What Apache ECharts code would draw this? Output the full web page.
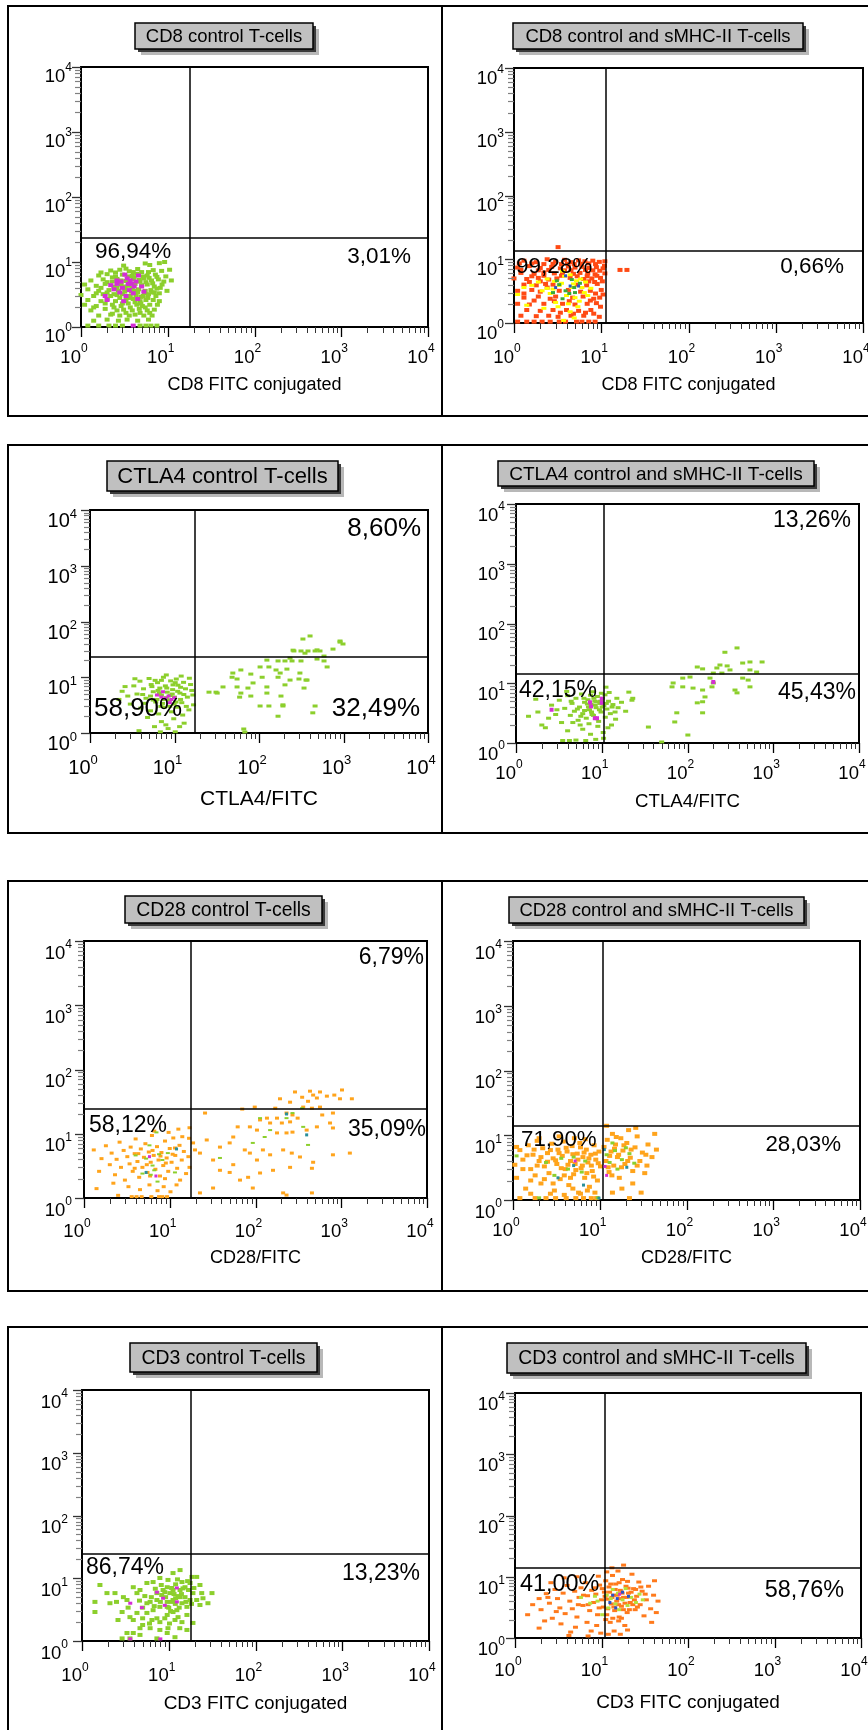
<!DOCTYPE html>
<html>
<head>
<meta charset="utf-8">
<script src="https://cdn.jsdelivr.net/npm/echarts@6/dist/echarts.min.js"></script>
<style>
  html, body { margin: 0; padding: 0; background: #ffffff; }
  #chart { width: 868px; height: 1730px; }
</style>
</head>
<body>
<div id="chart"></div>
<script>
// ---------- texts ----------
const panelTitles = [
  'CD8 control T-cells', 'CD8 control and sMHC-II T-cells',
  'CTLA4 control T-cells', 'CTLA4 control and sMHC-II T-cells',
  'CD28 control T-cells', 'CD28 control and sMHC-II T-cells',
  'CD3 control T-cells', 'CD3 control and sMHC-II T-cells'
];
const axisNames = [
  'CD8 FITC conjugated', 'CD8 FITC conjugated',
  'CTLA4/FITC', 'CTLA4/FITC',
  'CD28/FITC', 'CD28/FITC',
  'CD3 FITC conjugated', 'CD3 FITC conjugated'
];
// quadrant percentages: lower-left, lower-right, upper-right
const quadrantPercents = [
  { ll: '96,94%', lr: '3,01%' },
  { ll: '99,28%', lr: '0,66%' },
  { ll: '58,90%', lr: '32,49%', ur: '8,60%' },
  { ll: '42,15%', lr: '45,43%', ur: '13,26%' },
  { ll: '58,12%', lr: '35,09%', ur: '6,79%' },
  { ll: '71,90%', lr: '28,03%' },
  { ll: '86,74%', lr: '13,23%' },
  { ll: '41,00%', lr: '58,76%' }
];

// ---------- axes ----------
const decadeTicks = [1, 10, 100, 1000, 10000];
const minorTicks = [2, 3, 4, 5, 6, 7, 8, 9,
  20, 30, 40, 50, 60, 70, 80, 90,
  200, 300, 400, 500, 600, 700, 800, 900,
  2000, 3000, 4000, 5000, 6000, 7000, 8000, 9000];

// quadrant gates (FITC, side scatter) per panel
const gateX = [18, 11.3, 17.5, 10.6, 17.7, 10.9, 18, 11];
const gateY = [24, 13.5, 23, 14.3, 24.3, 13.9, 24.3, 13.9];

// ---------- events: [FITC, y] ----------
const cd8CtrlGreen = [
  [5.5,9.5],[6.2,9.0],[8.0,9.6],[9.2,10],[3.1,8.8],
  [2.2,7.4],[2.8,7.6],[3.6,7.2],[4.5,7.8],[5.0,7.0],[6.8,7.5],[8.5,7.3],[10.5,7.6],
  [1.6,6.2],[2.0,6.5],[2.5,6.0],[3.0,6.4],[3.9,6.1],[4.4,6.6],[5.8,6.2],[7.2,6.4],[9.5,6.0],
  [1.3,5.2],[1.8,5.4],[2.3,5.0],[2.6,5.5],[3.3,5.1],[4.0,5.4],[4.8,5.0],[5.3,5.6],[6.5,5.2],[7.8,5.4],[11,5.2],
  [1.1,4.5],[1.5,4.3],[1.9,4.6],[2.4,4.2],[2.9,4.5],[3.5,4.3],[4.2,4.6],[5.0,4.4],[5.8,4.5],[7.0,4.2],[8.6,4.5],
  [1.2,3.8],[1.6,3.6],[2.1,3.7],[2.7,3.6],[3.2,3.9],[3.8,3.5],[4.6,3.8],[5.5,3.6],[6.4,3.7],[7.5,3.9],[9.8,3.6],
  [1.0,3.1],[1.4,3.0],[1.8,3.2],[2.2,3.0],[2.6,3.1],[3.0,3.2],[3.7,3.0],[4.3,3.1],[5.2,3.0],[6.0,3.2],[7.3,3.0],
  [1.2,2.6],[1.7,2.5],[2.0,2.7],[2.5,2.5],[3.3,2.6],[4.0,2.7],[4.8,2.5],[5.6,2.6],[6.8,2.6],[8.0,2.5],
  [1.1,2.2],[1.5,2.1],[2.3,2.2],[2.9,2.1],[3.5,2.3],[4.4,2.2],[5.1,2.1],[6.2,2.2],[7.6,2.2],
  [1.3,1.8],[1.9,1.9],[2.6,1.8],[3.1,1.85],[3.9,1.8],[4.7,1.9],[5.8,1.8],[7.0,1.85],
  [1.6,1.5],[2.2,1.55],[2.8,1.5],[3.6,1.5],[4.2,1.55],[5.3,1.5],[6.6,1.5],
  [1.4,1.25],[2.0,1.3],[2.7,1.25],[3.4,1.3],[4.5,1.25],[6.0,1.3],
  [1.2,1.05],[1.6,1.05],[2.1,1.05],[2.5,1.05],[3.0,1.05],[4.8,1.05],[5.6,1.05],[6.4,1.05],[7.5,1.05],
  [1.7,4.0],[2.0,4.9],[2.3,5.8],[2.6,4.0],[2.9,5.2],[3.2,4.2],[3.5,6.0],[3.9,4.0],[4.1,5.8],[4.7,5.3],[5.2,6.0],
  [5.6,4.9],[6.1,5.7],[6.7,4.7],[1.5,3.3],[2.0,3.4],[2.4,3.2],[2.8,2.8],[3.2,3.5],[3.6,2.8],[4.1,3.6],[4.5,3.4],
  [4.9,2.9],[5.4,3.3],[5.9,2.8],[6.6,3.4],[1.9,2.3],[2.4,2.0],[3.0,2.3],[3.7,2.0],[4.2,2.4],[4.9,2.3],[5.5,2.0],
  [1.4,2.0],[1.7,6.9],[2.5,6.9],[3.3,7.9],[4.0,7.0],[6.0,7.0],[7.5,5.9],[8.2,4.0],[9.0,5.0],[8.0,3.3],[7.0,3.4],
  [2.3,1.6],[3.3,1.65],[4.8,1.65],[6.2,1.65]
];
const cd8CtrlMagenta = [
  [2.2,4.4],[2.6,5.2],[3.0,4.0],[3.4,5.6],[3.8,4.6],[4.3,5.0],[4.6,6.2],[2.8,3.4],[3.3,3.0],[3.6,3.7],
  [4.0,3.3],[2.4,3.8],[1.9,3.0],[5.0,4.2],[4.5,2.7],[3.1,2.5],[5.3,3.5],[2.0,2.6],[3.2,6.4],[4.0,1.05],
  [2.9,5.0],[3.7,5.2],[4.1,4.2],[3.5,4.6],[2.6,4.6]
];

const cd8MhcRed = [
  [3.2,15.5],
  [1.3,9.5],[1.8,9.0],[2.4,10],[3.0,9.2],[3.8,9.8],[4.5,9.0],[5.5,9.6],[6.5,9.3],[8.0,9.5],[9.5,9.1],
  [1.1,7.4],[1.5,7.8],[2.0,7.3],[2.7,7.6],[3.4,7.2],[4.2,7.7],[5.0,7.4],[6.0,7.6],[7.2,7.3],[8.8,7.5],[10.5,7.2],[16.4,6.8],[19.7,6.8],
  [1.2,6.1],[1.7,5.9],[2.2,6.2],[2.9,6.0],[3.6,6.2],[4.8,5.9],[5.7,6.1],[7.0,6.0],[8.5,5.8],[11,6.0],
  [1.0,5.0],[1.4,4.9],[1.9,5.1],[2.5,4.8],[3.1,5.0],[4.4,5.1],[6.3,4.9],[7.8,5.0],[9.8,5.1],
  [1.3,4.0],[1.8,3.9],[2.3,4.1],[2.8,4.0],[5.3,4.0],[6.8,3.9],[9.0,4.1],
  [1.1,3.2],[1.6,3.3],[2.0,3.1],[3.3,3.2],[4.2,3.3],[5.8,3.1],[7.5,3.2],[10,3.3],
  [1.3,2.5],[1.9,2.6],[2.6,2.4],[3.0,2.6],[4.7,2.5],[6.2,2.6],[8.2,2.4],[9.6,2.5],
  [1.1,2.0],[1.5,1.95],[2.2,2.0],[3.6,2.0],[5.0,1.95],[6.9,2.0],[8.8,2.05],
  [1.4,1.6],[2.0,1.55],[2.8,1.6],[4.0,1.6],[5.5,1.55],[7.6,1.6],
  [1.2,1.3],[1.8,1.28],[2.5,1.3],[3.2,1.25],[4.5,1.3],[6.3,1.3],[9.5,1.25],
  [1.1,1.05],[1.4,1.05],[1.7,1.05],[2.1,1.05],[2.6,1.05],[3.3,1.05],[3.9,1.05],[5.2,1.05],[6.0,1.05],[7.2,1.05],[8.5,1.05],
  [1.15,8.6],[1.6,8.6],[2.2,8.4],[2.8,8.5],[3.5,8.4],[4.1,8.5],[4.9,8.4],[5.9,8.5],[7.2,8.6],[8.6,8.4],
  [1.2,6.8],[1.9,6.7],[2.5,6.8],[3.8,6.7],[4.5,6.7],[6.6,6.8],[8.0,6.7],[9.6,6.6],[1.6,5.4],[2.2,5.5],[3.5,5.5],
  [5.3,5.4],[6.9,5.4],[8.9,5.5],[1.5,4.4],[2.0,4.5],[7.2,4.5],[8.4,4.4],[10.3,4.5],[1.3,2.9],[2.4,3.6],[8.6,2.9],
  [10.5,2.8],[1.7,2.25],[2.9,2.2],[4.3,2.2],[7.5,2.25],[9.8,1.8],[3.4,1.45],[4.8,1.4],[6.6,1.45],[8.2,1.4],
  [11,9.3],[10.9,7.9]
];
const cd8MhcYellow = [
  [1.1,2.8],[1.3,3.6],[2.4,3.5],[2.9,4.5],[3.5,4.2],[3.8,5.4],[4.0,2.7],[4.6,3.6],[5.2,4.6],[5.6,2.2],[6.0,3.6],
  [3.2,1.8],[4.4,1.5],[2.6,2.9],[7.0,2.7],[1.9,4.4],[3.6,6.5],[4.9,1.2],[6.6,4.4],[2.2,1.7],[3.7,1.1],[5.4,1.8],
  [1.6,3.9],[2.1,3.2],[2.8,3.4],[3.3,3.9],[4.8,4.1],[5.8,4.9],[6.4,3.0],[3.0,2.1],[4.2,2.0],[5.0,2.5],[2.4,4.9],
  [4.4,5.7],[7.6,3.5],[1.4,1.9]
];
const cd8MhcGreen = [[3.3,4.0],[3.9,3.2],[4.6,4.8],[4.3,2.9],[5.0,3.0],[3.6,2.4],[2.8,3.0],[4.9,3.6],[5.7,4.2],[3.1,4.6]];
const cd8MhcBlue = [[5.5,3.8],[3.9,5.5],[4.4,3.8],[3.0,3.6]];

const ctla4CtrlGreen = [
  [2.4,5.6],[2.8,4.6],[3.3,7.0],[3.6,5.0],[3.9,8.5],[4.3,6.2],[4.6,4.2],[5.0,9.5],[5.3,7.4],[5.6,5.5],[6.0,3.6],
  [6.3,8.0],[6.7,6.4],[7.0,4.8],[7.4,10],[7.8,7.0],[8.2,5.4],[8.6,3.9],[9.0,8.6],[9.5,6.0],[10,4.4],[10.5,9.3],
  [11,7.2],[11.6,5.2],[12.2,3.5],[12.8,8.1],[13.5,6.2],[14.2,4.4],[15,9.6],[16,5.8],[16.8,3.2],[3.0,3.3],[4.0,2.8],
  [5.2,2.5],[6.5,2.2],[7.6,2.9],[9.2,2.4],[10.8,2.9],[12.5,2.1],[14.8,2.6],[4.8,1.9],[7.0,1.6],[9.8,1.8],[13,1.5],
  [5.8,1.3],[8.4,1.2],[11.5,1.3],[3.8,1.1],[6.8,1.05],[10.2,1.05],[2.2,4.0],[5.4,6.8],[6.6,5.2],[8.0,4.3],[9.4,5.0],
  [7.2,3.4],[8.8,3.0],[10.4,3.6],[6.2,4.0],[11.8,4.0],[4.5,3.4],[5.9,8.8],[8.0,11],[12,10.5],[15.5,7.4],[16.5,4.8],
  [3.4,9.4],[2.6,6.8],[13.8,3.0],[7.9,1.4],
  [5.2,4.6],[6.4,5.8],[7.6,4.0],[8.9,4.7],[9.9,3.3],[10.9,5.6],[11.8,6.6],[6.9,3.0],[5.6,3.9],[8.1,6.4],[9.6,7.3],
  [12.9,4.9],[4.2,4.9],[7.0,8.8],[10.2,8.0],
  [402,55],[331,48.5],[910,44.7],[986,39.5],[259,29.6],[314,29.6],[380,29.6],[461,29.6],[527,29.6],[751,32],
  [588,24],[486,21.2],[168,19.6],[203,19.6],[246,19.6],[314,19.6],[588,19.6],[103,15.3],[131,15.3],[159,13.5],
  [214,14],[61,13.5],[80,11.4],[48,10],[109,10],[168,10],[55,9.3],[233,8.9],[297,9.3],[360,8.9],[37.5,6.7],
  [55,6.7],[124,6.7],[74,6.4],[203,7.3],[341,6.4],[25.6,5.4],[31,5.4],[61,5.2],[80,4.6],[124,5.2],[182,4.6],
  [103,3.05],[131,3.05],[192,3.05],[461,3.05],[168,2.0],[66,1.18],
  [124,20.3],[233,22],[350,27],[486,31],[640,15.3],[370,8.9],[178,11.9],[85,7.9],[49,11.9],[32,5.2],[59,4.4],
  [192,3.2],[433,2.3],[68,1.04],[305,11.9],[910,42.7],[253,30.6]
];
const ctla4CtrlMagenta = [[6.2,4.8],[7.0,4.4],[7.8,4.2],[8.5,4.6],[9.2,4.0],[7.3,5.5],[8.8,3.5],[10,4.3]];

const ctla4MhcGreen = [
  [1.4,2.8],[1.8,3.3],[2.0,2.0],[2.4,2.6],[2.6,4.3],[2.9,3.0],[3.2,5.2],[3.4,2.2],[3.7,3.8],[4.0,6.2],[4.3,2.9],
  [4.5,4.6],[4.8,3.4],[5.0,5.6],[5.3,2.4],[5.5,4.0],[5.8,6.6],[6.0,3.1],[6.3,4.8],[6.6,2.6],[6.9,5.3],[7.2,3.6],
  [7.5,4.4],[7.8,7.2],[8.0,2.9],[8.3,5.0],[8.6,3.9],[8.9,6.0],[9.2,2.3],[9.5,4.6],[9.8,3.3],[10.2,5.6],[10.6,4.2],
  [11,2.7],[11.5,3.7],[12,5.0],[12.6,3.1],[13.5,4.4],[14.5,2.5],[15.5,3.9],[17,4.8],[19,3.4],[23,5.6],[6.0,1.7],
  [7.4,1.4],[9.0,1.9],[10.4,1.5],[3.5,1.1],[4.2,1.1],[5.0,1.12],[6.5,1.1],[8.5,1.15],[10.5,1.2],[11.8,1.8],[5.6,2.0],
  [4.0,1.6],[2.2,1.8],[12.2,7.0],[6.3,3.5],[7.0,4.0],[7.7,3.0],[8.4,4.3],[9.7,5.0],[7.1,2.1],[5.7,2.8],[3.0,3.6],
  [4.6,2.2],[10.9,6.4],[11.2,8.6],[3.9,7.3],[1.7,5.4],[13,2.0],
  [6.2,5.6],[6.8,4.5],[7.6,3.3],[8.1,5.6],[8.7,4.9],[9.4,3.6],[10.1,4.0],[11.3,4.6],[5.2,3.7],[4.4,5.0],[7.4,6.3],[9.9,6.8],
  [378,39],[273,33],[535,22.7],[741,22.7],[440,21.8],[130,18.7],[150,17.4],[220,18],[239,20.2],[290,19.5],
  [200,14.8],[535,16.7],[640,15.4],[440,12.2],[68,10.1],[88,8.7],[116,8.3],[150,7.7],[193,8.7],[200,10.1],
  [358,7.7],[535,8.7],[510,11.3],[378,6.9],[160,5.9],[130,4.7],[150,4.9],[75,3.2],[150,3.2],[71,2.25],[35,1.85],
  [101,1.36],[50,1.04],[66,8.7],[183,12.2],[252,14.8],[313,16.7],[107,12.7],[88,12.2],[20.7,7.1],[22.5,5.2],
  [15,5.6],[13.2,4.0],[14.3,3.3]
];
const ctla4MhcMagenta = [[7.3,4.8],[7.5,4.1],[10,4.7],[10,5.5],[8.3,2.6],[8.8,2.6],[2.6,3.6],[200,10.5]];

const cd28CtrlOrange = [
  [1.3,5.6],[1.5,2.6],[1.6,4.1],[1.8,6.5],[2.0,3.3],[2.1,5.0],[2.3,2.3],[2.4,4.0],[2.6,7.4],[2.7,3.0],[2.9,5.5],
  [3.0,1.9],[3.2,4.4],[3.4,3.4],[3.5,6.2],[3.7,2.6],[3.9,4.9],[4.0,8.3],[4.2,3.7],[4.4,2.1],[4.6,5.8],[4.8,3.0],
  [5.0,4.3],[5.2,7.0],[5.5,2.5],[5.7,5.2],[6.0,3.6],[6.2,9.4],[6.5,4.6],[6.8,2.8],[7.1,6.3],[7.4,3.9],[7.7,2.2],
  [8.0,5.1],[8.4,3.2],[8.8,7.7],[9.2,4.2],[9.6,2.6],[10,5.9],[10.5,3.6],[11,8.6],[11.6,4.6],[12.2,2.9],[13,6.6],
  [13.8,3.9],[14.6,5.3],[15.5,2.4],[16.5,4.4],[3.3,1.5],[4.5,1.35],[5.8,1.6],[7.2,1.3],[8.5,1.5],[10.2,1.25],
  [12,1.6],[2.5,1.1],[3.6,1.05],[4.1,1.05],[4.7,1.05],[7.5,1.05],[8.2,1.05],[9.3,1.05],[6.1,1.05],[2.2,1.7],
  [1.4,1.4],[6.6,11],[9.7,10.5],[12.6,11.8],[14,9.0],[17,12.4],[5.4,3.3],[6.3,5.5],[7.8,4.5],[9.0,3.5],[10.8,4.8],
  [4.3,4.9],[11.5,6.0],[3.9,2.9],[8.8,2.0],[5.9,2.2],[16.8,8.5],[17,3.0],[13.2,1.9],
  [289,44.7],[432,46],[565,44.7],[1020,48],[830,40],[966,35],[1330,35],[470,40],[350,37],[193,35],[253,31],
  [410,32],[680,38.5],[520,36],[565,26],[455,25],[360,26],[170,25],[98,26],[70,24.2],[800,21],[600,19.6],
  [270,19.6],[230,21],[178,17.5],[136,17.5],[113,16.4],[148,14.7],[203,14.7],[253,15.3],[310,17.5],[740,14.7],
  [800,12.3],[520,12.8],[395,11.4],[270,10.6],[230,10.3],[178,10.3],[104,11.4],[86,12.8],[62,12.8],[55,8.9],
  [50,7.2],[38.5,6.2],[27,8.0],[25.8,21],[18.7,7.2],[19.7,5.6],[22.5,5.0],[32,3.9],[38.5,2.7],[55,3.3],[75,5.6],
  [86,5.0],[104,3.9],[122,5.6],[148,4.7],[210,5.6],[265,5.0],[330,4.35],[470,3.6],[455,2.9],[253,3.0],[160,2.7],
  [113,2.45],[82,2.1],[66,1.9],[50,2.5],[210,1.2],[230,1.11],[455,1.2],[1260,5.0],[800,4.7],[93,1.43],[32,1.43],
  [22.5,1.2]
];
const cd28CtrlGreen = [
  [4.0,4.6],[5.3,4.1],[6.3,3.2],[7.5,4.8],[6.6,2.7],[8.2,3.9],[5.8,6.6],[7.0,10.5],[4.8,2.4],[9.5,5.0],[6.0,2.3],
  [7.2,1.8],[11.5,2.5],
  [113,17.5],[148,11.4],[270,21],[360,12.8],[410,6.7],[230,17.5],[38.5,4.2],[128,8.9],[350,25],[93,7.2]
];
const cd28CtrlMagenta = [[5.8,4.4],[6.9,2.2]];
const cd28CtrlTeal = [[12,5.8],[5.3,2.5],[230,20.3],[395,9.6]];

const cd28MhcOrange = [
  [1.05,3.5],[1.1,2.2],[1.2,5.9],[1.3,4.2],[1.4,1.5],[1.5,7.0],[1.6,3.0],[1.7,5.0],[1.8,2.4],[1.9,8.2],[2.0,4.0],
  [2.1,1.8],[2.2,6.3],[2.3,3.3],[2.5,5.3],[2.6,2.6],[2.8,7.4],[2.9,4.4],[3.0,1.4],[3.2,3.6],[3.3,6.0],[3.5,2.1],
  [3.7,4.8],[3.8,8.0],[4.0,3.0],[4.2,5.6],[4.4,1.7],[4.6,4.0],[4.8,6.8],[5.0,2.5],[5.2,3.6],[5.5,5.2],[5.7,1.3],
  [5.9,7.6],[6.1,3.1],[6.4,4.6],[6.7,2.2],[7.0,6.0],[7.3,3.8],[7.6,1.6],[7.9,5.0],[8.2,2.8],[8.6,7.0],[9.0,4.2],
  [9.4,2.0],[9.8,5.6],[10.2,3.3],[1.2,1.07],[1.8,1.07],[2.4,1.07],[3.1,1.07],[4.1,1.07],[5.3,1.07],[6.5,1.07],
  [8.0,1.07],[9.2,1.07],[2.7,1.25],[3.9,1.2],[6.0,1.25],[8.8,1.3],[1.6,1.25],[4.9,1.5],[7.2,1.4],[2.0,9.0],
  [3.4,9.6],[5.1,9.0],[6.8,8.7],
  [1.1,6.6],[1.3,3.0],[1.45,4.9],[1.6,2.0],[1.75,6.0],[1.9,3.4],[2.1,4.6],[2.3,2.1],[2.5,3.9],[2.7,5.9],[2.9,1.8],
  [3.1,4.1],[3.4,5.3],[3.6,3.1],[3.9,2.4],[4.1,6.4],[4.3,3.5],[4.6,2.2],[4.9,5.1],[5.3,2.9],[5.6,4.2],[6.0,6.5],
  [6.3,3.4],[6.6,5.4],[7.1,2.6],[7.5,4.4],[8.0,3.4],[8.5,2.3],[8.9,5.2],[9.6,3.7],
  [11.2,6.6],[11.8,4.0],[12.2,8.5],[12.8,2.7],[13.5,5.6],[14,10.5],[14.5,3.4],[15.2,7.2],[16,4.6],[16.8,2.2],
  [17.5,9.0],[18.5,5.8],[19.5,3.6],[20.5,7.6],[21.5,12],[22.5,4.5],[24,2.8],[25.5,6.5],[27,9.6],[29,4.0],[31,5.4],
  [33,2.6],[36,7.2],[40,4.6],[43,10.5],[45,6.0],[18,1.5],[24,1.8],[30,1.3],[22,1.07],[35,3.4],[14,1.3],[26,13],[12,14],
  [13,4.8],[14.8,6.2],[16.5,5.0],[17.8,3.2],[19,7.0],[21,4.0],[13.8,2.4],[12.5,3.2],[15.5,9.4],[23,6.0],[27,3.4],[34,5.0]
];
const cd28MhcGreen = [
  [1.1,4.8],[2.4,3.8],[3.6,4.4],[4.3,3.0],[5.0,4.6],[6.2,2.7],[3.0,2.4],[6.8,4.0],[12,5.0],[13,3.8],[15,5.8],
  [18,4.2],[20,6.4],[14,7.6],[16,3.0],[22,5.2],[25,3.7],[9.5,1.08],[2.0,1.08]
];
const cd28MhcTeal = [[5.0,3.4],[6.5,1.7],[11.3,6.0],[20.5,3.2],[3.3,2.2],[9.8,1.07]];
const cd28MhcMagenta = [[5.2,4.0],[11.5,3.3],[12,2.4]];

const cd3CtrlGreen = [
  [1.61,7.8],[1.94,5.8],[1.41,4.2],[1.41,2.9],[2.4,5.8],[2.6,2.16],[3.3,4.5],[3.4,3.4],[3.9,7.2],[4.3,5.8],
  [4.66,6.5],[5.6,8.4],[6.6,8.7],[7.9,10.1],[9.8,9.4],[11.2,12.1],[13.5,13.5],[14.2,8.7],[15.4,7.2],[17.6,8.4],
  [18.5,10.5],[21,10.5],[22.9,7.8],[24,5.8],[24.8,4.8],[28.3,4.0],[31.5,5.8],[19,1.94],[16.2,1.5],[14.2,2.0],
  [11.8,2.16],[9.6,1.34],[7.9,1.5],[6.1,1.6],[4.66,1.6],[3.9,1.34],[3.3,1.34],[2.9,1.1],[7.3,1.1],[4.66,1.25],
  [5.6,2.8],[6.6,3.1],[7.9,3.5],[9.6,4.2],[11.2,4.5],[13.5,5.0],[10.3,5.8],[8.6,6.5],[7.3,5.8],[6.1,4.2],
  [5.0,3.4],[4.3,2.8],[3.9,2.16],[5.0,2.3],[7.3,2.3],[9.6,2.6],[12.4,3.1],[16.2,3.5],[17.6,4.5],[21,4.5],
  [22.9,3.75],[11.2,6.5],[13.5,6.5],[14.2,4.0],[7.9,2.0],[5.0,1.8],[3.57,2.4],[2.9,2.9],[2.1,4.0],[2.5,4.2],
  [3.0,5.0],[9.8,1.6],[11.8,1.15],[3.57,1.1],[15.4,5.0],[19,5.8],[12.8,2.4],[16.2,2.6],[7.3,4.5],[9.6,3.5],
  [11.2,2.9],[5.6,4.0],[6.4,2.16],[9.2,5.0],[10.6,4.2],[12,4.8],[10,3.4],[8.3,5.4],[11.5,5.6],[14,5.6],
  [9.6,7.2],[12,8.0],[16.9,6.5],
  [6.3,5.0],[7.0,6.8],[8.2,7.8],[9.0,6.0],[10.8,7.0],[12.8,5.2],[14.6,6.9],[11.9,3.9],[13.2,3.4],[10.5,3.0],
  [8.0,4.2],[6.8,3.6],[5.3,5.2],[4.6,4.4],[15.8,4.2],[18.3,3.9],[19.5,7.0],[16.5,9.0],[12.6,9.6],[9.0,2.3],
  [6.0,1.9],[10.2,1.9],[13.4,1.6]
];
const cd3CtrlMagenta = [[3.6,4.0],[4.9,3.4],[8.6,4.8],[9.0,3.7],[12.4,4.2],[12.4,7.0],[7.3,6.0],[3.6,1.08],[8.0,1.08]];

const cd3MhcOrange = [
  [1.4,2.4],[1.6,3.5],[1.9,4.4],[2.0,2.9],[2.3,5.3],[2.5,3.7],[2.7,2.1],[2.9,6.2],[3.1,4.4],[3.3,3.1],[3.6,5.4],
  [3.8,2.5],[4.0,7.2],[4.3,4.0],[4.6,3.0],[4.9,5.8],[5.2,2.2],[5.5,4.6],[5.8,6.6],[6.1,3.4],[6.5,8.0],[6.9,4.9],
  [7.3,2.8],[7.7,6.0],[8.1,3.8],[8.6,5.2],[9.0,2.4],[9.5,7.3],[10,4.2],[3.4,1.7],[5.0,1.5],[6.8,1.8],[8.8,1.6],
  [2.2,1.9],[4.4,1.25],[7.6,1.3],[9.8,1.2],[2.6,8.0],[3.7,9.6],[5.2,10],[4.2,1.1],[7.0,1.08],[1.9,1.45],[9.2,10.2],
  [10.5,3.2],[10.8,5.6],[11.2,8.6],[11.5,2.4],[11.8,4.3],[12.2,6.8],[12.6,1.8],[13,3.6],[13.4,10.5],[13.8,5.0],
  [14.2,2.8],[14.6,7.6],[15,4.0],[15.5,12.4],[16,2.2],[16.5,6.0],[17,3.3],[17.5,9.0],[18,4.6],[18.6,1.6],[19.2,7.0],
  [19.8,2.6],[20.5,5.4],[21.5,3.8],[22.5,11],[23.5,6.4],[24.5,2.9],[25.5,4.8],[27,8.2],[28,3.5],[29.5,5.8],[31,2.3],
  [33,4.2],[35,7.0],[37,3.0],[40,5.0],[43,2.6],[45,4.0],[41,8.6],[38,1.8],[14,1.3],[16.5,1.15],[20,1.35],[12,1.15],
  [18,15.5],[11.5,12],[13.2,14],
  [10.2,6.4],[11,4.8],[11.8,3.0],[12.4,5.6],[13.2,4.6],[13.9,3.2],[14.4,6.2],[15.2,5.0],[15.8,3.5],[16.6,4.4],
  [17.3,5.4],[17.9,2.9],[18.7,3.7],[19.4,4.6],[20.3,6.5],[21,2.9],[22,5.6],[23,3.5],[24.8,6.2],[26,3.2],[11.2,2.0],
  [13.5,2.1],[15.8,1.9],[17,2.1],[12.8,7.6],[16,8.0],[20,8.4],[24,4.2],[28.5,6.8],[32,5.2],[6.2,5.0],[7.0,3.5],
  [8.4,6.6],[9.4,3.1],[5.4,3.5],[3.0,2.7],[2.4,4.6]
];
const cd3MhcGreen = [
  [5.8,4.6],[7.4,3.7],[9.0,4.0],[11.5,5.0],[12.8,4.4],[14.5,3.6],[15.5,5.4],[13.5,6.2],[17.5,4.2],[20,3.4],
  [22,4.6],[25,3.8],[27.5,5.2],[16,2.9],[19,6.4],[30,4.2],[8.4,4.8],[12,3.1],[10.2,2.4]
];
const cd3MhcBlue = [[13.5,5.0],[15.2,4.4],[17.5,5.6],[12.5,3.8],[20.5,4.8],[14.6,3.1]];
const cd3MhcMagenta = [[16.2,5.2]];

// ---------- styling ----------
const FONT = '"Liberation Sans", Arial, Helvetica, sans-serif';
const COLORS = {
  green: '#8ccf2c', magenta: '#d42ed4', red: '#ff4a14', yellow: '#ffff00',
  darkGreen: '#3aa83a', blue: '#2a52c8', orange: '#ffa41c', teal: '#2a8f9a',
  deepOrange: '#ff7a1c', limeGreen: '#b4e03c'
};

const panelSeries = [
  [ { data: cd8CtrlGreen, color: COLORS.green, size: [5, 4] },
    { data: cd8CtrlMagenta, color: COLORS.magenta, size: [5, 4] } ],
  [ { data: cd8MhcRed, color: COLORS.red, size: [5, 4] },
    { data: cd8MhcYellow, color: COLORS.yellow, size: [5, 3] },
    { data: cd8MhcGreen, color: COLORS.darkGreen, size: [4, 3] },
    { data: cd8MhcBlue, color: COLORS.blue, size: [3, 3] } ],
  [ { data: ctla4CtrlGreen, color: COLORS.green, size: [5, 3] },
    { data: ctla4CtrlMagenta, color: COLORS.magenta, size: [4, 3] } ],
  [ { data: ctla4MhcGreen, color: COLORS.green, size: [5, 3] },
    { data: ctla4MhcMagenta, color: COLORS.magenta, size: [4, 4] } ],
  [ { data: cd28CtrlOrange, color: COLORS.orange, size: [4, 3] },
    { data: cd28CtrlGreen, color: COLORS.green, size: [4, 2] },
    { data: cd28CtrlTeal, color: COLORS.teal, size: [3, 3] },
    { data: cd28CtrlMagenta, color: COLORS.magenta, size: [3, 3] } ],
  [ { data: cd28MhcOrange, color: COLORS.orange, size: [5, 4] },
    { data: cd28MhcGreen, color: COLORS.green, size: [4, 3] },
    { data: cd28MhcTeal, color: COLORS.teal, size: [3, 3] },
    { data: cd28MhcMagenta, color: COLORS.magenta, size: [3, 3] } ],
  [ { data: cd3CtrlGreen, color: COLORS.green, size: [5, 4] },
    { data: cd3CtrlMagenta, color: COLORS.magenta, size: [4, 3] } ],
  [ { data: cd3MhcOrange, color: COLORS.deepOrange, size: [5, 3] },
    { data: cd3MhcGreen, color: COLORS.limeGreen, size: [4, 3] },
    { data: cd3MhcBlue, color: COLORS.blue, size: [3, 3] },
    { data: cd3MhcMagenta, color: COLORS.magenta, size: [3, 3] } ]
];

// page layout: plot rectangles, title boxes, font sizes and label anchors
const frames = [
  [8, 6, 434, 410], [442, 6, 440, 410],
  [8, 445, 434, 388], [442, 445, 440, 388],
  [8, 881, 434, 410], [442, 881, 440, 410],
  [8, 1327, 434, 420], [442, 1327, 440, 420]
];
const layout = [
  { grid: [81, 67, 347, 260], title: [135, 23, 178, 26], titleFont: 18.5, tick: 18.5, pct: 22.5, nameFont: 18, nameGap: 58, xOff: 28, yOff: 7, yMargin: 9,
    pos: { ll: [95, 252], lr: [411, 257] } },
  { grid: [514, 68, 349, 255], title: [513, 23, 290, 26], titleFont: 18.5, tick: 18.5, pct: 22.5, nameFont: 18, nameGap: 62, xOff: 32, yOff: 8, yMargin: 10,
    pos: { ll: [516, 267], lr: [844, 267] } },
  { grid: [90, 510, 338, 223], title: [107, 461, 231, 30], titleFont: 22, tick: 20, pct: 26, nameFont: 21, nameGap: 66, xOff: 33, yOff: 9.5, yMargin: 13,
    pos: { ll: [94, 709], lr: [420, 709], ur: [421, 529] } },
  { grid: [516, 504, 343, 239], title: [498, 461, 316, 25], titleFont: 19, tick: 18.5, pct: 23, nameFont: 18.7, nameGap: 59, xOff: 28, yOff: 9, yMargin: 11,
    pos: { ll: [519, 691], lr: [856, 693], ur: [851, 521] } },
  { grid: [84, 941, 343, 257], title: [125, 896, 197, 27], titleFont: 19.4, tick: 18.5, pct: 23, nameFont: 18, nameGap: 60, xOff: 31.5, yOff: 10, yMargin: 12,
    pos: { ll: [89, 1126], lr: [426, 1130], ur: [424, 958] } },
  { grid: [513, 941, 347, 259], title: [509, 897, 295, 26], titleFont: 18.4, tick: 18.5, pct: 22.3, nameFont: 18, nameGap: 58, xOff: 28.5, yOff: 10, yMargin: 11,
    pos: { ll: [521, 1140], lr: [841, 1145] } },
  { grid: [82, 1390, 347, 251], title: [130, 1343, 187, 29], titleFont: 19.4, tick: 18.5, pct: 23, nameFont: 19, nameGap: 63, xOff: 32.5, yOff: 10, yMargin: 14,
    pos: { ll: [86, 1568], lr: [420, 1574] } },
  { grid: [515, 1393, 346, 245], title: [507, 1343, 299, 30], titleFont: 19.3, tick: 18.5, pct: 23.4, nameFont: 19, nameGap: 65, xOff: 30, yOff: 9.5, yMargin: 10,
    pos: { ll: [520, 1585], lr: [844, 1591] } }
];

const LINE_H = 24;
function powerRich(F) {
  return {
    b: { fontSize: F, lineHeight: LINE_H, verticalAlign: 'bottom', fontFamily: FONT, color: '#000' },
    s: { fontSize: Math.round(F * 0.66), lineHeight: LINE_H - 0.84 * F, verticalAlign: 'top', fontFamily: FONT, color: '#000' }
  };
}
function powerLabel(v) {
  return '{b|10}{s|' + Math.round(Math.log10(v)) + '}';
}

// tick marks (decades long, 2..9 short), placed through the axis scales
const xTickData = decadeTicks.concat(minorTicks).map(function (v) { return [v, 1]; });
const yTickData = decadeTicks.concat(minorTicks).map(function (v) { return [1, v]; });
function xTickItem(params, api) {
  const v = api.value(0);
  const p = api.coord([v, 1]);
  const major = decadeTicks.indexOf(v) >= 0;
  const x = Math.round(p[0]) + 0.5;
  return { type: 'line', shape: { x1: x, y1: p[1], x2: x, y2: p[1] + (major ? 10 : 6) },
    style: { stroke: major ? '#000' : '#333', lineWidth: major ? 1.3 : 1 } };
}
function yTickItem(params, api) {
  const v = api.value(1);
  const p = api.coord([1, v]);
  const major = decadeTicks.indexOf(v) >= 0;
  const y = Math.round(p[1]) + 0.5;
  return { type: 'line', shape: { x1: p[0], y1: y, x2: p[0] - (major ? 9 : 6), y2: y },
    style: { stroke: major ? '#333' : '#808080', lineWidth: major ? 1.3 : 1.2 } };
}

const grids = [], xAxes = [], yAxes = [], series = [], graphics = [];

frames.forEach(function (f) {
  graphics.push({ type: 'rect', z: 1, shape: { x: f[0], y: f[1], width: f[2], height: f[3] },
    style: { fill: 'none', stroke: '#000', lineWidth: 2 } });
});

layout.forEach(function (L, i) {
  grids.push({ left: L.grid[0], top: L.grid[1], width: L.grid[2], height: L.grid[3],
    show: true, borderColor: '#000', borderWidth: 2, backgroundColor: 'transparent',
    containLabel: false, outerBoundsMode: 'none' });

  xAxes.push({
    type: 'log', logBase: 10, gridIndex: i, min: 1, max: 10000, position: 'bottom',
    axisLine: { show: false, onZero: false },
    axisTick: { show: false },
    axisLabel: { show: true, customValues: decadeTicks, formatter: powerLabel, margin: L.xOff - LINE_H / 2,
      padding: [0, 14, 0, 0], rich: powerRich(L.tick) },
    splitLine: { show: false },
    name: axisNames[i], nameLocation: 'middle', nameGap: L.nameGap,
    nameTextStyle: { fontFamily: FONT, fontSize: L.nameFont, color: '#000', verticalAlign: 'middle' }
  });
  yAxes.push({
    type: 'log', logBase: 10, gridIndex: i, min: 1, max: 10000, position: 'left',
    axisLine: { show: false, onZero: false },
    axisTick: { show: false },
    axisLabel: { show: true, customValues: decadeTicks, formatter: powerLabel, margin: L.yMargin,
      padding: [2 * L.yOff, 0, 0, 0], align: 'right', verticalAlign: 'middle', rich: powerRich(L.tick) },
    splitLine: { show: false }
  });

  series.push({ type: 'custom', xAxisIndex: i, yAxisIndex: i, data: xTickData, renderItem: xTickItem,
    silent: true, clip: false, z: 5 });
  series.push({ type: 'custom', xAxisIndex: i, yAxisIndex: i, data: yTickData, renderItem: yTickItem,
    silent: true, clip: false, z: 5 });

  panelSeries[i].forEach(function (s, k) {
    const item = {
      type: 'scatter', xAxisIndex: i, yAxisIndex: i,
      data: s.data, symbol: 'rect', symbolSize: s.size,
      itemStyle: { color: s.color, opacity: 1 }, silent: true, z: 2 + k
    };
    if (k === 0) {
      item.markLine = {
        silent: true, symbol: ['none', 'none'], animation: false,
        label: { show: false },
        lineStyle: { color: '#000', width: 1.5, type: 'solid' },
        data: [{ xAxis: gateX[i] }, { yAxis: gateY[i] }]
      };
    }
    series.push(item);
  });

  // title box with drop shadow
  const t = L.title;
  graphics.push({ type: 'rect', z: 50, shape: { x: t[0] + 6, y: t[1] + 6, width: t[2], height: t[3] }, style: { fill: '#b8b8b8' } });
  graphics.push({ type: 'rect', z: 51, shape: { x: t[0] + 3, y: t[1] + 3, width: t[2], height: t[3] }, style: { fill: '#3a3a3a' } });
  graphics.push({ type: 'rect', z: 52, shape: { x: t[0], y: t[1], width: t[2], height: t[3] },
    style: { fill: '#c0c0c0', stroke: '#000', lineWidth: 1.5 } });
  graphics.push({ type: 'text', z: 53, x: t[0] + t[2] / 2, y: t[1] + t[3] / 2 + 1,
    style: { text: panelTitles[i], font: L.titleFont + 'px ' + FONT, fill: '#000',
      align: 'center', verticalAlign: 'middle', textAlign: 'center', textVerticalAlign: 'middle' } });

  // quadrant percentages
  const q = quadrantPercents[i];
  ['ll', 'lr', 'ur'].forEach(function (key) {
    if (!q[key]) return;
    const p = L.pos[key];
    const al = key === 'll' ? 'left' : 'right';
    graphics.push({ type: 'text', z: 100, x: p[0], y: p[1],
      style: { text: q[key], font: L.pct + 'px ' + FONT, fill: '#000',
        align: al, verticalAlign: 'middle', textAlign: al, textVerticalAlign: 'middle' } });
  });
});

const chart = echarts.init(document.getElementById('chart'), null, { renderer: 'canvas', width: 868, height: 1730 });
chart.setOption({
  animation: false,
  backgroundColor: '#ffffff',
  textStyle: { fontFamily: FONT, color: '#000' },
  grid: grids,
  xAxis: xAxes,
  yAxis: yAxes,
  series: series,
  graphic: { elements: graphics }
});
</script>
</body>
</html>
